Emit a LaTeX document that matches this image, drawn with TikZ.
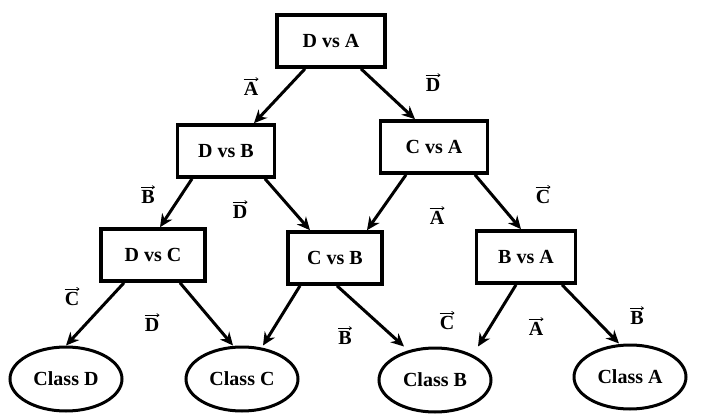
\documentclass[tikz,border=0pt]{standalone}
\usepackage{fontspec}
\setmainfont{Liberation Serif}
\usetikzlibrary{arrows.meta,shapes.geometric}
\tikzset{
  test/.style={draw,line width=3.6pt,minimum width=#1,minimum height=52pt,inner sep=0pt,font=\fontsize{20}{22}\selectfont\bfseries},
  cls/.style={draw,ellipse,line width=3pt,minimum width=112pt,minimum height=64pt,inner sep=0pt,font=\fontsize{20}{22}\selectfont\bfseries},
  edge/.style={line width=3pt,-{Stealth[length=13pt,width=12pt]}},
  lab/.style={font=\fontsize{20}{22}\selectfont\bfseries,inner sep=0pt},
  vec/.style={line width=0.7pt,-{To[length=3pt,width=4pt]}}
}
\begin{document}
\begin{tikzpicture}[x=1pt,y=-1pt]
\useasboundingbox (0,0) rectangle (723,414);
% decision nodes
\node[test=108pt] (da) at (331,41) {D vs A};
\node[test=97pt] (db) at (226,151) {D vs B};
\node[test=107pt] (ca) at (434,147) {C vs A};
\node[test=104pt] (dc) at (153,255) {D vs C};
\node[test=94pt] (cb) at (335,258) {C vs B};
\node[test=99pt] (ba) at (526,257) {B vs A};
% leaves
\node[cls] (kd) at (66,379) {Class D};
\node[cls] (kc) at (242,379) {Class C};
\node[cls] (kb) at (435,380) {Class B};
\node[cls] (ka) at (630,377) {Class A};
% branches
\draw[edge] ([xshift=-26pt]da.south) -- ([xshift=28pt]db.north);
\draw[edge] ([xshift=30pt]da.south) -- ([xshift=-19pt]ca.north);
\draw[edge] ([xshift=-34pt]db.south) -- ([xshift=7pt]dc.north);
\draw[edge] ([xshift=39pt]db.south) -- ([xshift=-25pt]cb.north);
\draw[edge] ([xshift=-28pt]ca.south) -- ([xshift=32pt]cb.north);
\draw[edge] ([xshift=41pt]ca.south) -- ([xshift=-5pt]ba.north);
\draw[edge] ([xshift=-29pt]dc.south) -- (kd.north);
\draw[edge] ([xshift=27pt]dc.south) -- ([xshift=-9pt]kc.north);
\draw[edge] ([xshift=-35pt]cb.south) -- ([xshift=21pt]kc.north);
\draw[edge] ([xshift=2pt]cb.south) -- ([xshift=-31pt]kb.north);
\draw[edge] ([xshift=-10pt]ba.south) -- ([xshift=43pt]kb.north);
\draw[edge] ([xshift=36pt]ba.south) -- ([xshift=-11pt]ka.north);
% branch labels (letters)
\node[lab] (l1) at (251,89) {A};
\node[lab] (l2) at (433,85) {D};
\node[lab] (l3) at (148,197) {B};
\node[lab] (l4) at (240,212) {D};
\node[lab] (l5) at (437,218) {A};
\node[lab] (l6) at (543,197) {C};
\node[lab] (l7) at (72,299) {C};
\node[lab] (l8) at (152,325) {D};
\node[lab] (l9) at (345,338) {B};
\node[lab] (l10) at (447,323) {C};
\node[lab] (l11) at (536,329) {A};
\node[lab] (l12) at (637,318) {B};
% vector arrows over the letters
\foreach \n in {l1,l2,l3,l4,l5,l6,l7,l8,l9,l10,l11,l12}
  \draw[vec] ([yshift=3pt]\n.north west) -- ([yshift=3pt]\n.north east);
\end{tikzpicture}
\end{document}
